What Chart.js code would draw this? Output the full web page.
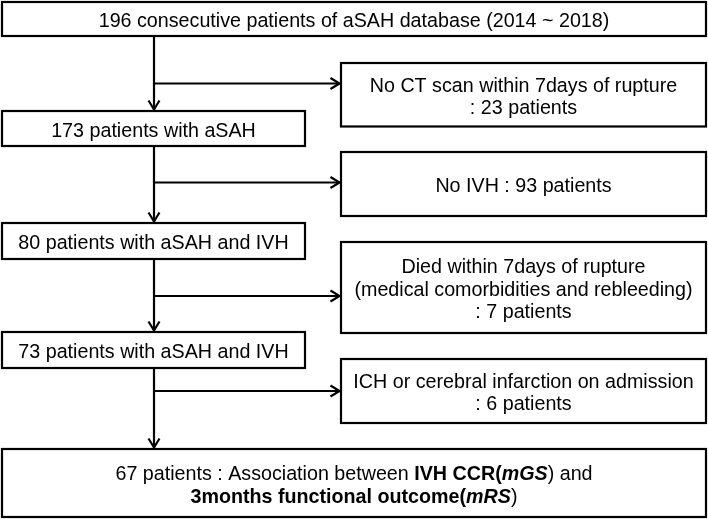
<!DOCTYPE html>
<html>
<head>
<meta charset="utf-8">
<script src="https://cdn.jsdelivr.net/npm/chart.js@4"></script>
<style>
html,body{margin:0;padding:0;background:#fff;}
#wrap{width:708px;height:520px;}
</style>
</head>
<body>
<div id="wrap"><canvas id="c" width="708" height="520"></canvas></div>
<script>
// ---- data ----
const mainCounts = [196, 173, 80, 73, 67];
const mainLabels = [
  "consecutive patients of aSAH database (2014 ~ 2018)",
  "patients with aSAH",
  "patients with aSAH and IVH",
  "patients with aSAH and IVH",
  "patients"
];
const finalDescription = [
  [[" : Association between ", "n"], ["IVH CCR(", "b"], ["mGS", "bi"], [") and", "n"]],
  [["3months functional outcome(", "b"], ["mRS", "bi"], [")", "n"]]
];
const exclusionReasons = [
  ["No CT scan within 7days of rupture"],
  ["No IVH"],
  ["Died within 7days of rupture", "(medical comorbidities and rebleeding)"],
  ["ICH or cerebral infarction on admission"]
];
const exclusionCounts = [23, 93, 7, 6];

// ---- layout (pixel-space values of the linear scales) ----
const mainBoxes = [
  [2, 706, 2, 36], [2, 305, 111, 146], [2, 305, 223, 259], [2, 305, 332, 368], [2, 706, 449, 517]
];
const exclBoxes = [
  [341, 706, 63, 126.5], [341, 706, 152, 216], [341, 706, 242, 333], [341, 706, 359, 423]
];
const branchY = [83.5, 182.5, 296, 391];
const spineX = 154;
const inlineCount = [false, true, false, false];
const FONT = '"Liberation Sans", Arial, sans-serif';
const FS = 19.7, LH = 22.5;

function fontFor(style) {
  return (style.includes('i') ? 'italic ' : '') + (style.includes('b') ? 'bold ' : '') + FS + 'px ' + FONT;
}

const flowPlugin = {
  id: 'flow',
  afterDraw(chart) {
    const ctx = chart.ctx, xs = chart.scales.x, ys = chart.scales.y;
    const X = v => xs.getPixelForValue(v), Y = v => ys.getPixelForValue(v);
    ctx.save();
    ctx.strokeStyle = '#000';
    ctx.fillStyle = '#000';
    ctx.lineWidth = 2.2;
    ctx.lineJoin = 'miter';

    function rect(b) {
      ctx.strokeRect(X(b[0]), Y(b[2]), X(b[1]) - X(b[0]), Y(b[3]) - Y(b[2]));
    }
    function line(x0, y0, x1, y1) {
      ctx.beginPath(); ctx.moveTo(X(x0), Y(y0)); ctx.lineTo(X(x1), Y(y1)); ctx.stroke();
    }
    function arrowDown(x, y) {
      ctx.beginPath();
      ctx.moveTo(X(x - 5.5), Y(y - 9)); ctx.lineTo(X(x), Y(y)); ctx.lineTo(X(x + 5.5), Y(y - 9));
      ctx.stroke();
    }
    function arrowRight(x, y) {
      ctx.beginPath();
      ctx.moveTo(X(x - 9), Y(y - 5.5)); ctx.lineTo(X(x), Y(y)); ctx.lineTo(X(x - 9), Y(y + 5.5));
      ctx.stroke();
    }
    function richLine(segs, cx, cy) {
      let total = 0;
      segs.forEach(s => { ctx.font = fontFor(s[1]); total += ctx.measureText(s[0]).width; });
      let x = X(cx) - total / 2;
      ctx.textAlign = 'left';
      ctx.textBaseline = 'alphabetic';
      segs.forEach(s => {
        ctx.font = fontFor(s[1]);
        ctx.fillText(s[0], x, Y(cy) + FS * 0.358);
        x += ctx.measureText(s[0]).width;
      });
    }
    function textBlock(lines, b, shift) {
      const cx = (b[0] + b[1]) / 2, cy = (b[2] + b[3]) / 2 + shift;
      const n = lines.length;
      lines.forEach((segs, i) => richLine(segs, cx, cy + (i - (n - 1) / 2) * LH));
    }

    // spine with down arrows and branches
    for (let i = 0; i < mainBoxes.length - 1; i++) {
      const y0 = mainBoxes[i][3], y1 = mainBoxes[i + 1][2];
      line(spineX, y0, spineX, y1 - 1);
      arrowDown(spineX, y1 - 1.5);
      line(spineX, branchY[i], exclBoxes[i][0] - 1.5, branchY[i]);
      arrowRight(exclBoxes[i][0] - 1.5, branchY[i]);
    }

    // main boxes
    mainBoxes.forEach((b, i) => {
      rect(b);
      if (i < mainBoxes.length - 1) {
        textBlock([[[mainCounts[i] + ' ' + mainLabels[i], 'n']]], b, 1);
      } else {
        const l1 = [[mainCounts[i] + ' ' + mainLabels[i], 'n']].concat(finalDescription[0]);
        textBlock([l1, finalDescription[1]], b, 1.5);
      }
    });

    // exclusion boxes
    exclBoxes.forEach((b, i) => {
      rect(b);
      let lines;
      if (inlineCount[i]) {
        lines = [[[exclusionReasons[i][0] + ' : ' + exclusionCounts[i] + ' patients', 'n']]];
      } else {
        lines = exclusionReasons[i].map(t => [[t, 'n']]);
        lines.push([[': ' + exclusionCounts[i] + ' patients', 'n']]);
      }
      textBlock(lines, b, 1);
    });
    ctx.restore();
  }
};

new Chart(document.getElementById('c'), {
  type: 'scatter',
  data: { datasets: [{ data: [], showLine: false }] },
  options: {
    responsive: false,
    animation: false,
    layout: { padding: 0 },
    scales: {
      x: { type: 'linear', min: 0, max: 708, display: false },
      y: { type: 'linear', min: 0, max: 520, reverse: true, display: false }
    },
    plugins: { legend: { display: false }, tooltip: { enabled: false } }
  },
  plugins: [flowPlugin]
});
</script>
</body>
</html>
